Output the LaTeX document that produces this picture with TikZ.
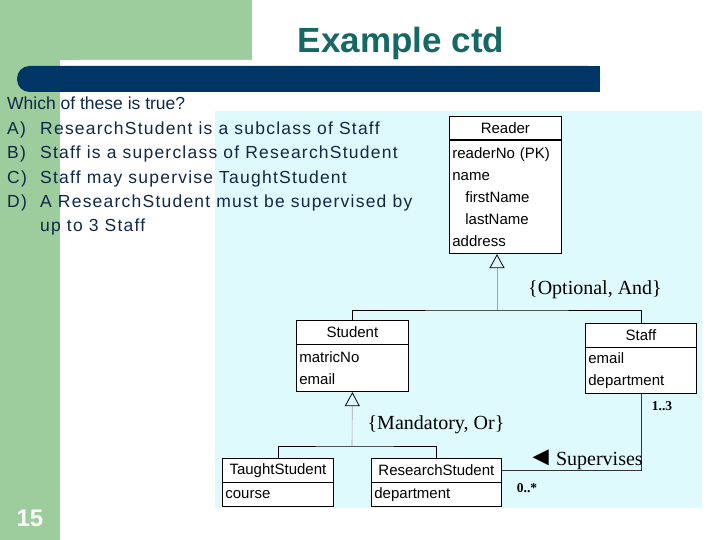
\documentclass[tikz,border=0pt]{standalone}
\usepackage{fontspec}
\setmainfont{Liberation Sans}
\newfontfamily\umlserif{Liberation Serif}
\usepackage{tikz}
\usetikzlibrary{arrows.meta, positioning}
\usepackage{xcolor}
\definecolor{slidegreen}{RGB}{157,204,157}
\definecolor{barnavy}{RGB}{0,54,102}
\definecolor{titleteal}{RGB}{22,104,100}
\definecolor{umlcyan}{RGB}{223,250,252}
\definecolor{questtext}{RGB}{15,40,70}
\newcommand{\qlabel}[1]{\addfontfeature{LetterSpace=7}\makebox[33pt][l]{#1}}
\tikzset{
  umlhead/.style  = {draw=black, line width=0.8pt, fill=white, minimum height=23.5pt,
                     inner sep=0pt, font=\fontsize{15}{18}\selectfont},
  umlbody/.style  = {draw=black, line width=0.8pt, fill=white, align=left,
                     inner xsep=3pt, inner ysep=0pt, font=\fontsize{15}{22}\selectfont},
  headrule/.style = {line width=1.6pt},
  genlink/.style  = {draw=gray!70, line width=0.6pt,
                     -{Triangle[open, length=14pt, width=15pt, color=black, line width=0.8pt]}},
  treelink/.style = {draw=black, line width=0.8pt},
  assoc/.style    = {draw=black!80, line width=0.8pt},
  constraint/.style = {font=\umlserif\fontsize{20}{22}\selectfont, inner sep=0pt},
  mult/.style     = {font=\umlserif\bfseries\fontsize{13.5}{15}\selectfont, inner sep=0pt},
}

\begin{document}
\begin{tikzpicture}[x=1pt, y=-1pt]

\useasboundingbox (0,0) rectangle (720,540);

% slide background
\fill[slidegreen] (0,0) rectangle (252,60);
\fill[slidegreen] (0,0) rectangle (60,540);
\fill[white, rounded corners=10pt] (67,60) rectangle (610,80);
\fill[barnavy, rounded corners=12.5pt] (17,66) rectangle (600,92);
\fill[barnavy] (580,66) rectangle (600,92);
\fill[umlcyan] (215,111) rectangle (702,508);

\node[font=\bfseries\fontsize{35}{40}\selectfont, titleteal] (title) at (401,43) {Example ctd};
\node[font=\bfseries\fontsize{24}{28}\selectfont, white] (pagenum) at (30,518) {15};

\node[anchor=north west, inner sep=0pt, align=left, questtext,
      font=\fontsize{17.5}{24.4}\selectfont] (question) at (7,97)
  {Which of these is true?\\
   \qlabel{A)}ResearchStudent is a subclass of Staff\\
   \qlabel{B)}Staff is a superclass of ResearchStudent\\
   \qlabel{C)}Staff may supervise TaughtStudent\\
   \qlabel{D)}A ResearchStudent must be supervised by\\
   \qlabel{}up to 3 Staff};

% classes
\node[umlhead, minimum width=112pt, anchor=north west] (reader) at (449,116) {Reader};
\node[umlbody, text width=106pt, minimum height=113pt, below=0pt of reader] (readerattr)
  {readerNo (PK)\\name\\\hspace*{13pt}firstName\\\hspace*{13pt}lastName\\address};
\draw[headrule] (reader.south west) -- (reader.south east);

\node[umlhead, minimum width=112pt, anchor=north west] (student) at (296,320) {Student};
\node[umlbody, text width=106pt, minimum height=47pt, below=0pt of student] (studentattr)
  {matricNo\\email};
\draw[headrule] (student.south west) -- (student.south east);

\node[umlhead, minimum width=111pt, anchor=north west] (staff) at (585,323) {Staff};
\node[umlbody, text width=105pt, minimum height=46pt, below=0pt of staff] (staffattr)
  {email\\department};
\draw[headrule] (staff.south west) -- (staff.south east);

\node[umlhead, minimum width=111pt, anchor=north west] (taught) at (222,458) {TaughtStudent};
\node[umlbody, text width=105pt, minimum height=24pt, below=0pt of taught] (taughtattr)
  {course};
\draw[headrule] (taught.south west) -- (taught.south east);

\node[umlhead, minimum width=130pt, anchor=north west] (research) at (371,458) {ResearchStudent};
\node[umlbody, text width=124pt, minimum height=24pt, below=0pt of research] (researchattr)
  {department};
\draw[headrule] (research.south west) -- (research.south east);

% generalisations
\coordinate (readerjoin) at (497,310);
\draw[genlink] (readerjoin) -- (readerjoin |- readerattr.south);
\draw[treelink] (student.north) |- (readerjoin) -| (staff.north);

\coordinate (studentjoin) at (352,446);
\draw[genlink] (studentjoin) -- (studentattr.south);
\draw[treelink] (taught.north) |- (studentjoin) -| (research.north);

% association
\draw[assoc] (research.east) -| (staffattr.south);

\node[constraint] (optand) at (595,290) {\{Optional, And\}};
\node[constraint] (mandor) at (436,425) {\{Mandatory, Or\}};
\node[constraint, anchor=base] (supervises) at (585,465)
  {{\fontsize{27}{27}\selectfont ◄}\hspace{2pt}Supervises};
\node[mult] (upper) at (662,406) {1..3};
\node[mult] (lower) at (527,488) {0..*};

\end{tikzpicture}
\end{document}
